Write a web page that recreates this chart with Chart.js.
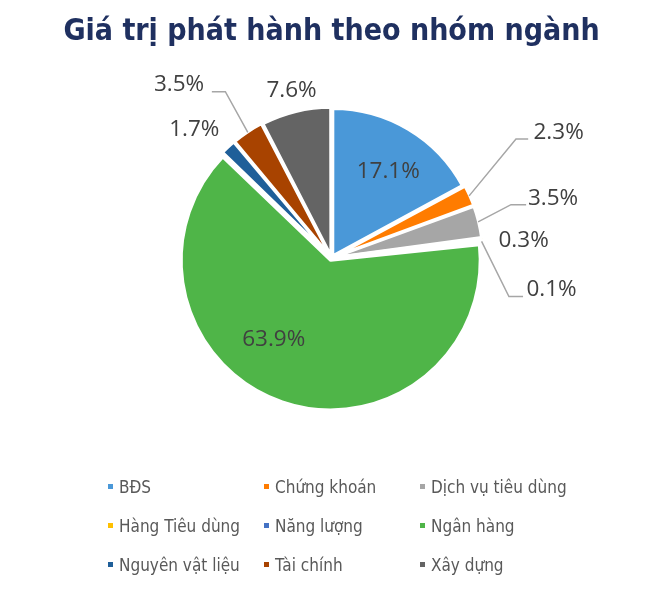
<!DOCTYPE html>
<html>
<head>
<meta charset="utf-8">
<script src="https://cdn.jsdelivr.net/npm/chart.js@4.4.1/dist/chart.umd.min.js"></script>
<style>
  html, body { margin: 0; padding: 0; background: #ffffff; }
  #wrap { position: relative; width: 657px; height: 592px; }
  #c { position: absolute; left: 0; top: 0; }
  #legend {
    position: absolute; left: 106px; top: 467px;
    display: grid; grid-template-columns: 156px 156px 170px; grid-auto-rows: 39px;
    font-family: "DejaVu Sans Condensed", "DejaVu Sans", sans-serif; font-stretch: condensed;
    font-size: 17px; color: #595959;
  }
  .li { display: flex; align-items: center; white-space: nowrap; }
  .mk { width: 5px; height: 5px; margin-right: 6px; margin-left: 2px; flex: none; }
</style>
</head>
<body>
<div id="wrap">
  <canvas id="c" width="657" height="592"></canvas>
  <div id="legend"></div>
</div>
<script>
const categories = ["BĐS", "Chứng khoán", "Dịch vụ tiêu dùng", "Hàng Tiêu dùng", "Năng lượng", "Ngân hàng", "Nguyên vật liệu", "Tài chính", "Xây dựng"];
const shares = [17.1, 2.3, 3.5, 0.3, 0.1, 63.9, 1.7, 3.5, 7.6];
const colors = ["#4A98D8", "#FF7C00", "#A6A6A6", "#FFC000", "#4472C4", "#4FB548", "#1F5F99", "#A84300", "#646464"];
const titleText = "Giá trị phát hành theo nhóm ngành";

// label layout, in units of the pie radius, relative to the pie centre
const labelPos = [
  [0.386, -0.589], [1.545, -0.855], [1.507, -0.402], [1.307, -0.117], [1.497, 0.214],
  [-0.393, 0.552], [-0.933, -0.871], [-1.037, -1.181], [-0.272, -1.14]
];
// leader lines: [elbow, end] in radius units, or null
const leaders = [
  null, [[1.255, -0.81], [1.338, -0.81]], [[1.221, -0.363], [1.324, -0.363]], null,
  [[1.207, 0.262], [1.303, 0.262]], null, null, [[-0.722, -1.131], [-0.814, -1.131]], null
];

const legendEl = document.getElementById('legend');
categories.forEach((c, i) => {
  const d = document.createElement('div');
  d.className = 'li';
  d.innerHTML = '<span class="mk" style="background:' + colors[i] + '"></span><span>' + c + '</span>';
  legendEl.appendChild(d);
});

const labelPlugin = {
  id: 'pieLabels',
  afterDatasetsDraw(chart) {
    const ctx = chart.ctx;
    const meta = chart.getDatasetMeta(0);
    const ds = chart.data.datasets[0];
    ctx.save();
    meta.data.forEach((arc, i) => {
      const cx = arc.x, cy = arc.y, r = arc.outerRadius;
      const mid = (arc.startAngle + arc.endAngle) / 2;
      if (leaders[i]) {
        const sx = cx + Math.cos(mid) * (r + 4);
        const sy = cy + Math.sin(mid) * (r + 4);
        ctx.beginPath();
        ctx.moveTo(sx, sy);
        ctx.lineTo(cx + leaders[i][0][0] * r, cy + leaders[i][0][1] * r);
        ctx.lineTo(cx + leaders[i][1][0] * r, cy + leaders[i][1][1] * r);
        ctx.strokeStyle = '#A6A6A6';
        ctx.lineWidth = 1.5;
        ctx.stroke();
      }
      ctx.fillStyle = '#404040';
      ctx.font = '22.5px "Open Sans", sans-serif';
      ctx.textAlign = 'center';
      ctx.textBaseline = 'middle';
      ctx.fillText(ds.data[i].toFixed(1) + '%', cx + labelPos[i][0] * r, cy + labelPos[i][1] * r);
    });
    ctx.restore();
  }
};

new Chart(document.getElementById('c'), {
  type: 'pie',
  data: {
    labels: categories,
    datasets: [{
      data: shares,
      backgroundColor: colors,
      borderColor: '#ffffff',
      borderWidth: 3,
      offset: 10
    }]
  },
  options: {
    responsive: false,
    animation: false,
    devicePixelRatio: 1,
    radius: 147,
    layout: { padding: { left: 6, right: 0, top: 0, bottom: 136 } },
    plugins: {
      legend: { display: false },
      tooltip: { enabled: false },
      title: {
        display: true,
        text: titleText,
        color: '#1F3060',
        font: { family: '"DejaVu Sans Condensed", "DejaVu Sans", sans-serif', size: 30, weight: 'bold', lineHeight: 1.2 },
        padding: { top: 14, bottom: 10 }
      }
    }
  },
  plugins: [labelPlugin]
});
</script>
</body>
</html>
